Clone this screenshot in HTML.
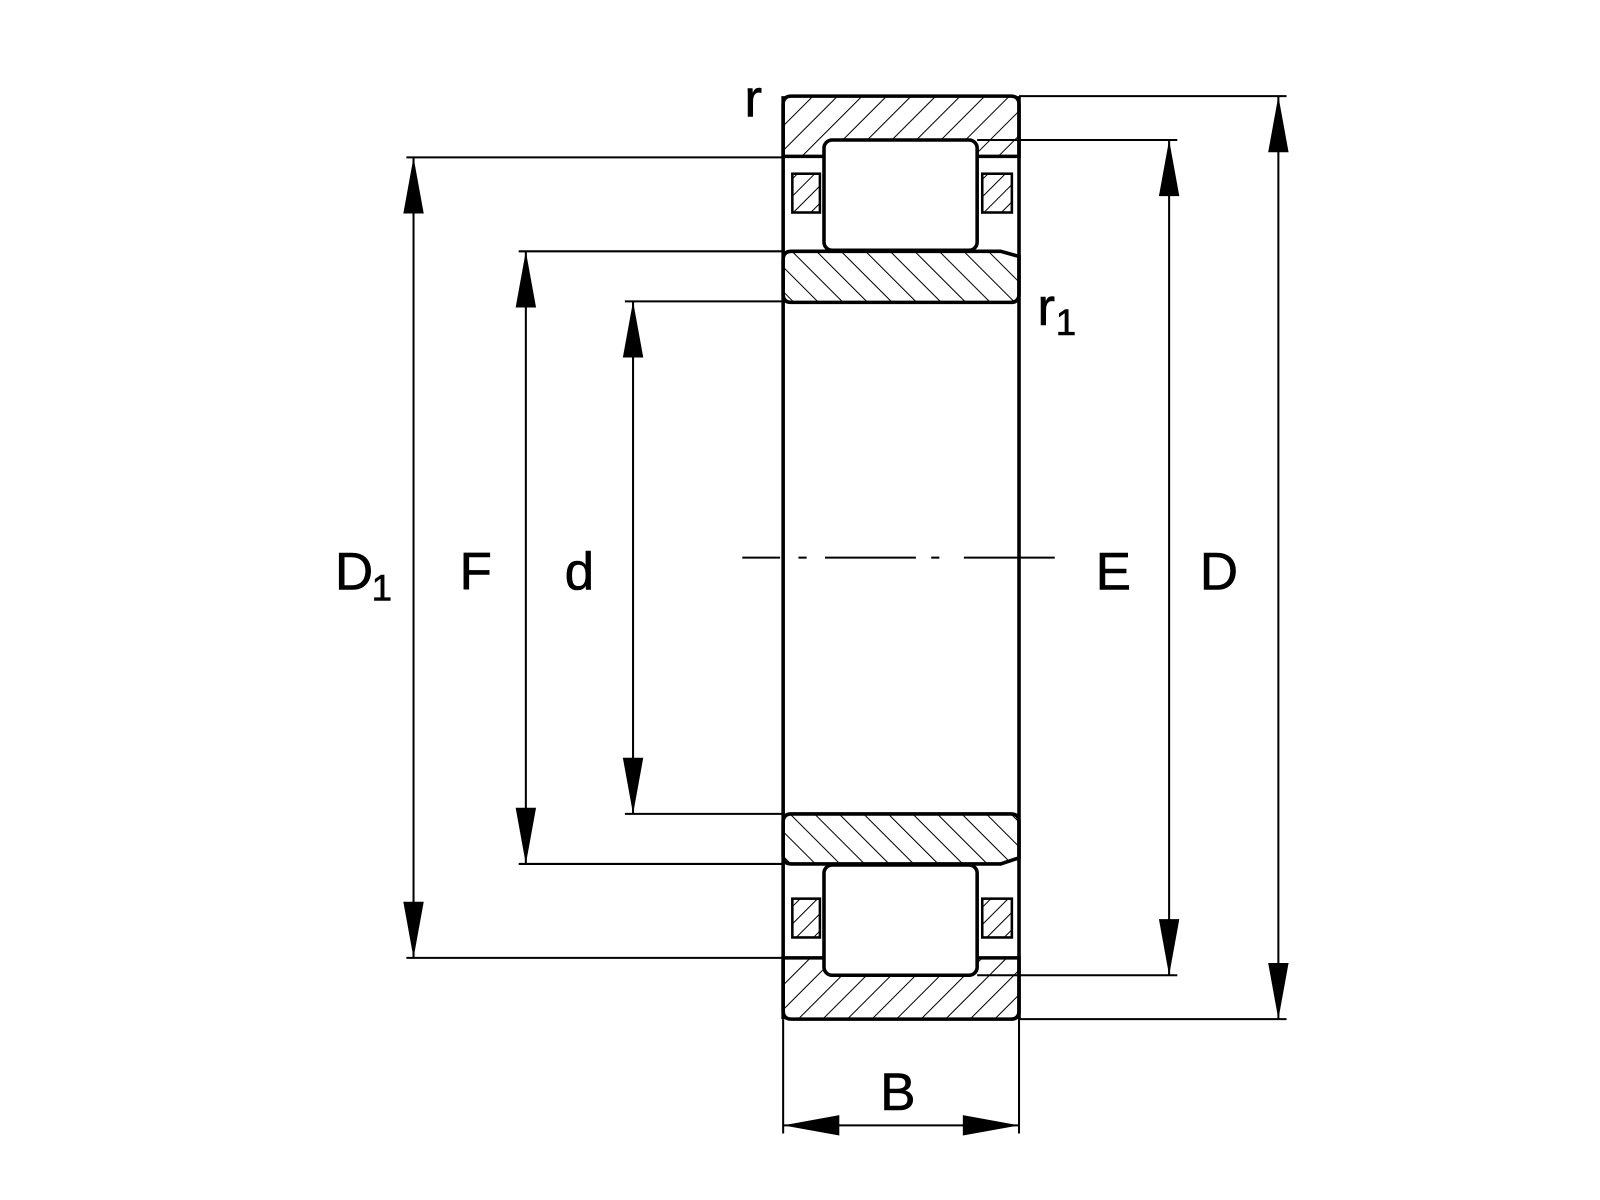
<!DOCTYPE html>
<html><head><meta charset="utf-8"><style>html,body{margin:0;padding:0;background:#fff}svg{display:block}</style></head><body>
<svg width="1600" height="1200" viewBox="0 0 1567 1175" xmlns="http://www.w3.org/2000/svg" font-family="Liberation Sans, Arial, sans-serif">
<defs>
<pattern id="hf" patternUnits="userSpaceOnUse" width="17" height="17" patternTransform="rotate(45)"><line x1="0" y1="0" x2="0" y2="17" stroke="#000" stroke-width="2"/></pattern>
<pattern id="hb" patternUnits="userSpaceOnUse" width="17" height="17" patternTransform="rotate(-45)"><line x1="0" y1="0" x2="0" y2="17" stroke="#000" stroke-width="2"/></pattern>
<pattern id="hc" patternUnits="userSpaceOnUse" width="12" height="12" patternTransform="rotate(45)"><line x1="0" y1="0" x2="0" y2="12" stroke="#000" stroke-width="2"/></pattern>
</defs>
<rect width="1567" height="1175" fill="#fff"/>
<g stroke="#000" fill="none" stroke-width="3.5">
<path d="M767,153 L767,102 Q767,94 775,94 L990,94 Q998,94 998,102 L998,153 Z" fill="url(#hf)"/>
<path d="M767,938 L767,990 Q767,998 775,998 L990,998 Q998,998 998,990 L998,938 Z" fill="url(#hf)"/>
<path d="M775,246 L980,246 L998,251 L998,288 Q998,296 990,296 L775,296 Q767,296 767,288 L767,254 Q767,246 775,246 Z" fill="url(#hb)"/>
<path d="M775,797 L990,797 Q998,797 998,805 L998,840 L980,846 L775,846 Q767,846 767,838 L767,805 Q767,797 775,797 Z" fill="url(#hb)"/>
<rect x="776" y="170" width="27" height="38" fill="url(#hc)" stroke-width="2.5"/>
<rect x="962" y="170" width="29" height="38" fill="url(#hc)" stroke-width="2.5"/>
<rect x="776" y="880" width="27" height="38" fill="url(#hc)" stroke-width="2.5"/>
<rect x="962" y="880" width="29" height="38" fill="url(#hc)" stroke-width="2.5"/>
<rect x="807" y="137" width="150" height="108" rx="8" fill="#fff"/>
<rect x="807" y="847" width="150" height="108" rx="8" fill="#fff"/>
<line x1="767" y1="94" x2="767" y2="998"/>
<line x1="998" y1="94" x2="998" y2="998"/>
</g>
<g stroke="#000" stroke-width="2">
<line x1="727" y1="546" x2="764" y2="546"/>
<line x1="782" y1="546" x2="790" y2="546"/>
<line x1="808" y1="546" x2="897" y2="546"/>
<line x1="912" y1="546" x2="920" y2="546"/>
<line x1="944" y1="546" x2="1033" y2="546"/>
</g>
<g stroke="#000" stroke-width="2" fill="none">
<line x1="398" y1="154" x2="767" y2="154"/>
<line x1="398" y1="938" x2="767" y2="938"/>
<line x1="508" y1="246" x2="767" y2="246"/>
<line x1="508" y1="846" x2="767" y2="846"/>
<line x1="612" y1="295" x2="767" y2="295"/>
<line x1="612" y1="797" x2="767" y2="797"/>
<line x1="957" y1="137" x2="1153" y2="137"/>
<line x1="957" y1="955" x2="1153" y2="955"/>
<line x1="998" y1="94" x2="1260" y2="94"/>
<line x1="998" y1="998" x2="1260" y2="998"/>
<line x1="767" y1="998" x2="767" y2="1110"/>
<line x1="998" y1="998" x2="998" y2="1110"/>
<line x1="405" y1="154" x2="405" y2="938"/>
<line x1="515" y1="246" x2="515" y2="846"/>
<line x1="620" y1="295" x2="620" y2="797"/>
<line x1="1145" y1="137" x2="1145" y2="955"/>
<line x1="1252" y1="94" x2="1252" y2="998"/>
<line x1="767" y1="1102" x2="998" y2="1102"/>
</g>
<g fill="#000">
<path d="M405,154 L395,209 L415,209 Z"/><path d="M405,938 L395,883 L415,883 Z"/>
<path d="M515,246 L505,301 L525,301 Z"/><path d="M515,846 L505,791 L525,791 Z"/>
<path d="M620,295 L610,350 L630,350 Z"/><path d="M620,797 L610,742 L630,742 Z"/>
<path d="M1145,137 L1135,192 L1155,192 Z"/><path d="M1145,955 L1135,900 L1155,900 Z"/>
<path d="M1252,94 L1242,149 L1262,149 Z"/><path d="M1252,998 L1242,943 L1262,943 Z"/>
<path d="M767,1102 L822,1092 L822,1112 Z"/><path d="M998,1102 L943,1092 L943,1112 Z"/>
</g>
<g fill="#000" font-size="52" stroke="#000" stroke-width="0.6">
<text x="328" y="577">D</text><text x="364" y="588" font-size="36">1</text>
<text x="450" y="577">F</text>
<text x="553" y="577">d</text>
<text x="1073" y="577">E</text>
<text x="1175" y="577">D</text>
<text x="862" y="1087">B</text>
<text x="729" y="114">r</text>
<text x="1016" y="318">r</text><text x="1034" y="328" font-size="36">1</text>
</g>
</svg>
</body></html>
